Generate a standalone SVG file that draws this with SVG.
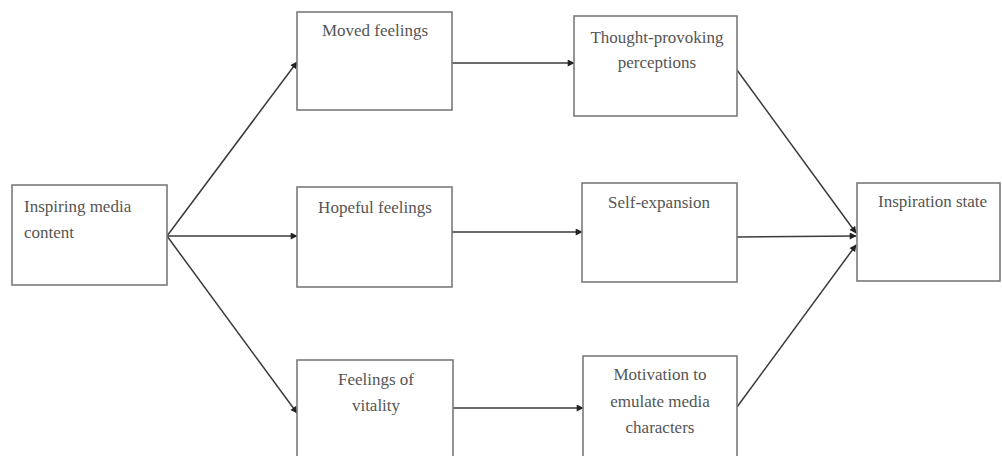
<svg xmlns="http://www.w3.org/2000/svg" width="1002" height="456" viewBox="0 0 1002 456">
<style>
.box{fill:#fff;stroke:#7a7a7a;stroke-width:1.6}
.t{font-family:"Liberation Serif","Times New Roman",serif;font-size:17px;fill:#555}
.c{text-anchor:middle}
.e{stroke:#3a3a3a;stroke-width:1.5;fill:none;marker-end:url(#ah)}
</style>
<defs>
<marker id="ah" viewBox="0 0 10 10" refX="9" refY="5" markerWidth="8" markerHeight="7" markerUnits="userSpaceOnUse" orient="auto">
<path d="M0,0 L10,5 L0,10 z" fill="#222"/>
</marker>
</defs>
<rect width="1002" height="456" fill="#fff"/>
<g id="connectors">
<line class="e" x1="167" y1="236" x2="297" y2="62"/>
<line class="e" x1="167" y1="236" x2="297" y2="236"/>
<line class="e" x1="167" y1="236" x2="297" y2="413"/>
<line class="e" x1="452" y1="63" x2="574" y2="63"/>
<line class="e" x1="452" y1="232" x2="582" y2="232"/>
<line class="e" x1="453" y1="408" x2="583" y2="408"/>
<line class="e" x1="737" y1="70" x2="856" y2="233"/>
<line class="e" x1="737" y1="237" x2="856" y2="236"/>
<line class="e" x1="737" y1="407" x2="856" y2="245"/>
</g>
<g id="inspiring">
<rect class="box" x="12" y="185" width="155" height="100"/>
<text class="t" x="24" y="212">Inspiring media</text>
<text class="t" x="24" y="238">content</text>
</g>
<g id="moved">
<rect class="box" x="297" y="12" width="155" height="98"/>
<text class="t c" x="375" y="36">Moved feelings</text>
</g>
<g id="hopeful">
<rect class="box" x="297" y="187" width="155" height="100"/>
<text class="t c" x="375" y="213">Hopeful feelings</text>
</g>
<g id="vitality">
<rect class="box" x="297" y="360" width="156" height="110"/>
<text class="t c" x="376" y="385">Feelings of</text>
<text class="t c" x="376" y="411">vitality</text>
</g>
<g id="thought">
<rect class="box" x="574" y="16" width="163" height="100"/>
<text class="t c" x="657" y="43">Thought-provoking</text>
<text class="t c" x="657" y="68">perceptions</text>
</g>
<g id="selfexp">
<rect class="box" x="582" y="183" width="155" height="99"/>
<text class="t c" x="659" y="208">Self-expansion</text>
</g>
<g id="motivation">
<rect class="box" x="583" y="356" width="154" height="110"/>
<text class="t c" x="660" y="380">Motivation to</text>
<text class="t c" x="660" y="407">emulate media</text>
<text class="t c" x="660" y="433">characters</text>
</g>
<g id="inspiration">
<rect class="box" x="857" y="183" width="143" height="98"/>
<text class="t" x="878" y="207">Inspiration state</text>
</g>
</svg>
